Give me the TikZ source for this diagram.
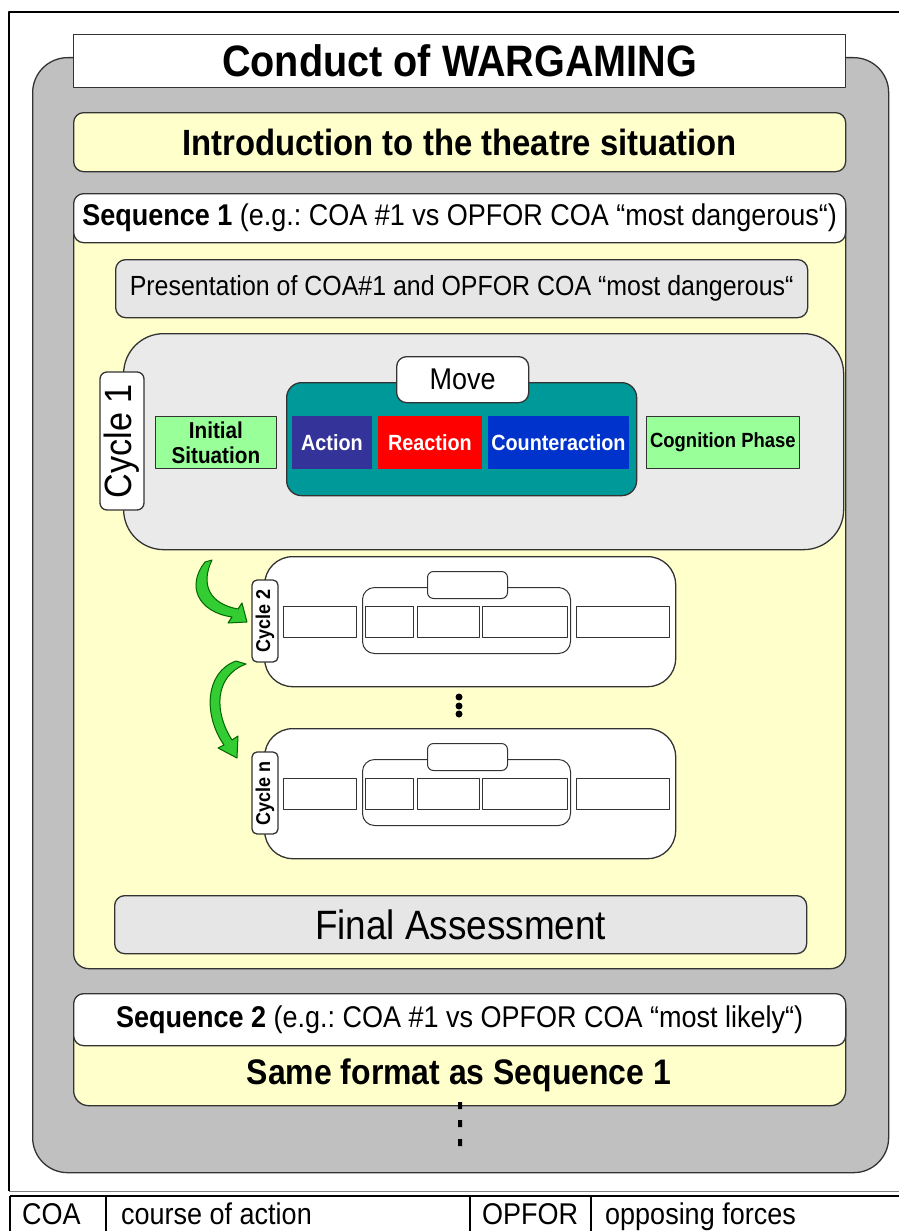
\documentclass[tikz,border=0pt]{standalone}
\usepackage{fontspec}
\setmainfont[FakeStretch=0.9]{Liberation Sans}
\frenchspacing
\definecolor{framegray}{RGB}{192,192,192}
\definecolor{paleyellow}{RGB}{255,255,204}
\definecolor{lightbox}{RGB}{230,230,230}
\definecolor{cyclegray}{RGB}{234,234,234}
\definecolor{moveteal}{RGB}{0,153,153}
\definecolor{actionblue}{RGB}{51,51,153}
\definecolor{counterblue}{RGB}{0,51,204}
\definecolor{phasegreen}{RGB}{153,255,153}
\definecolor{arrowgreen}{RGB}{51,204,51}
\newcommand{\fsz}[1]{\fontsize{#1}{#1}\selectfont}
\begin{document}
\begin{tikzpicture}[x=1pt,y=-1pt,line join=round]
\tikzset{box/.style={draw=black!80,line width=1.3pt,inner sep=0pt,anchor=north west},
  phase/.style={box,line width=0.8pt,minimum height=52,font=\fsz{22}\bfseries},
  empty/.style={box,line width=1pt,fill=white},
  tab/.style={box,anchor=center,rotate=90,fill=white,rounded corners=7pt},
  legend/.style={anchor=base west,inner sep=0pt,font=\fsz{30}},
  green arrow/.style={fill=arrowgreen,draw=black!60!green,line width=1pt}}
\useasboundingbox (0,0) rectangle (899,1231);
% frame and legend
\draw[line width=1.5pt] (9,1191) -- (9,12) -- (899,12);
\draw[gray,line width=1pt] (9,1191) -- (899,1191);
\draw[line width=2.2pt] (10,1196) -- (899,1196);
\draw[line width=1.3pt] (10,1196) -- (10,1231) (106,1196) -- (106,1231)
  (470,1196) -- (470,1231) (591,1196) -- (591,1231);
\node[legend] (coa) at (22,1224) {COA};
\node[legend] (coatext) at (121,1224) {course of action};
\node[legend] (opfor) at (482,1224) {OPFOR};
\node[legend] (opfortext) at (605,1224) {opposing forces};
% outer box
\node[box,fill=framegray,rounded corners=35pt,minimum width=856,minimum height=1115] (outer) at (32,57) {};
\node[box,fill=white,minimum width=772,minimum height=53,font=\fsz{44}\bfseries] (title) at (73,34) {Conduct of WARGAMING};
\node[box,fill=paleyellow,rounded corners=10pt,minimum width=772,minimum height=59,font=\fsz{36.5}\bfseries] (intro) at (73,112) {Introduction to the theatre situation};
% sequence 1
\node[box,fill=paleyellow,rounded corners=15pt,minimum width=772,minimum height=775] (seq1) at (73,193) {};
\node[box,fill=white,rounded corners=10pt,minimum width=772,minimum height=49,font=\fsz{30}] (seq1head) at (73,193)
  {{\bfseries Sequence 1} (e.g.: COA \#1 vs OPFOR COA “most dangerous“)};
\node[box,fill=lightbox,rounded corners=10pt,minimum width=692,minimum height=58,font=\fsz{27.7}] (present) at (115,259)
  {Presentation of COA\#1 and OPFOR COA “most dangerous“};
% cycle 1
\node[box,fill=cyclegray,rounded corners=40pt,minimum width=720,minimum height=216] (cycle1) at (123,333) {};
\node[tab,minimum width=138,minimum height=44,font=\fsz{38}] (tab1) at (122,441) {Cycle 1};
\node[phase,fill=phasegreen,minimum width=121,align=center,font=\fontsize{23}{25}\selectfont\bfseries] (init) at (155,416) {Initial\\Situation};
\node[box,fill=moveteal,rounded corners=15pt,minimum width=350,minimum height=113] (move) at (286,382) {};
\node[box,fill=white,rounded corners=10pt,minimum width=132,minimum height=46,font=\fsz{30}] (movetab) at (396,356) {Move};
\node[phase,fill=actionblue,draw=actionblue,text=white,minimum width=79] (action) at (292,416) {Action};
\node[phase,fill=red,draw=red,text=white,minimum width=103] (reaction) at (378,416) {Reaction};
\node[phase,fill=counterblue,draw=counterblue,text=white,minimum width=140] (counter) at (488,416) {Counteraction};
\node[phase,fill=phasegreen,minimum width=153,font=\fsz{20.5}\bfseries] (cognition) at (646,416) {Cognition Phase};
% cycle 2
\node[box,fill=white,rounded corners=28pt,minimum width=411,minimum height=130] (cycle2) at (264,556) {};
\node[tab,minimum width=82,minimum height=26,font=\fsz{20}\bfseries,rounded corners=5pt] (tab2) at (265,621) {Cycle 2};
\node[empty,rounded corners=12pt,minimum width=208,minimum height=66] (move2) at (362,587) {};
\node[empty,rounded corners=6pt,minimum width=80,minimum height=27] (movetab2) at (427,571) {};
\node[empty,minimum width=73,minimum height=31] (init2) at (283,606) {};
\node[empty,minimum width=48,minimum height=31] (action2) at (365,606) {};
\node[empty,minimum width=62,minimum height=31] (reaction2) at (417,606) {};
\node[empty,minimum width=85,minimum height=31] (counter2) at (482,606) {};
\node[empty,minimum width=93,minimum height=31] (cognition2) at (576,606) {};
\fill (459,697) circle (3.5) (459,706) circle (3.5) (459,714) circle (3.5);
% cycle n
\node[box,fill=white,rounded corners=28pt,minimum width=411,minimum height=130] (cyclen) at (264,728) {};
\node[tab,minimum width=82,minimum height=26,font=\fsz{20}\bfseries,rounded corners=5pt] (tabn) at (265,793) {Cycle n};
\node[empty,rounded corners=12pt,minimum width=208,minimum height=66] (moven) at (362,759) {};
\node[empty,rounded corners=6pt,minimum width=80,minimum height=27] (movetabn) at (427,743) {};
\node[empty,minimum width=73,minimum height=31] (initn) at (283,778) {};
\node[empty,minimum width=48,minimum height=31] (actionn) at (365,778) {};
\node[empty,minimum width=62,minimum height=31] (reactionn) at (417,778) {};
\node[empty,minimum width=85,minimum height=31] (countern) at (482,778) {};
\node[empty,minimum width=93,minimum height=31] (cognitionn) at (576,778) {};
% curved arrows
\filldraw[green arrow] (212,560) .. controls (200,585) and (210,604) .. (238,609) -- (242,603) -- (247,622)
  -- (228,623) -- (232,617) .. controls (198,612) and (186,586) .. (205,562) -- cycle;
\filldraw[green arrow] (246,664) .. controls (214,676) and (214,712) .. (232,740) -- (238,736) -- (237,758)
  -- (218,748) -- (224,745) .. controls (203,715) and (205,672) .. (236,661) -- cycle;
\node[box,fill=lightbox,rounded corners=10pt,minimum width=692,minimum height=58,font=\fsz{41}] (final) at (114,895) {Final Assessment};
% sequence 2
\node[box,fill=paleyellow,rounded corners=15pt,minimum width=772,minimum height=112] (seq2) at (73,993) {};
\node[box,fill=white,rounded corners=10pt,minimum width=772,minimum height=52,font=\fsz{30}] (seq2head) at (73,993)
  {{\bfseries Sequence 2} (e.g.: COA \#1 vs OPFOR COA “most likely“)};
\node[font=\fsz{35.5}\bfseries] (same) at (459,1075) {Same format as Sequence 1};
\fill (458,1102) rectangle (462,1109) (458,1120) rectangle (462,1127) (458,1139) rectangle (462,1146);
\end{tikzpicture}
\end{document}
